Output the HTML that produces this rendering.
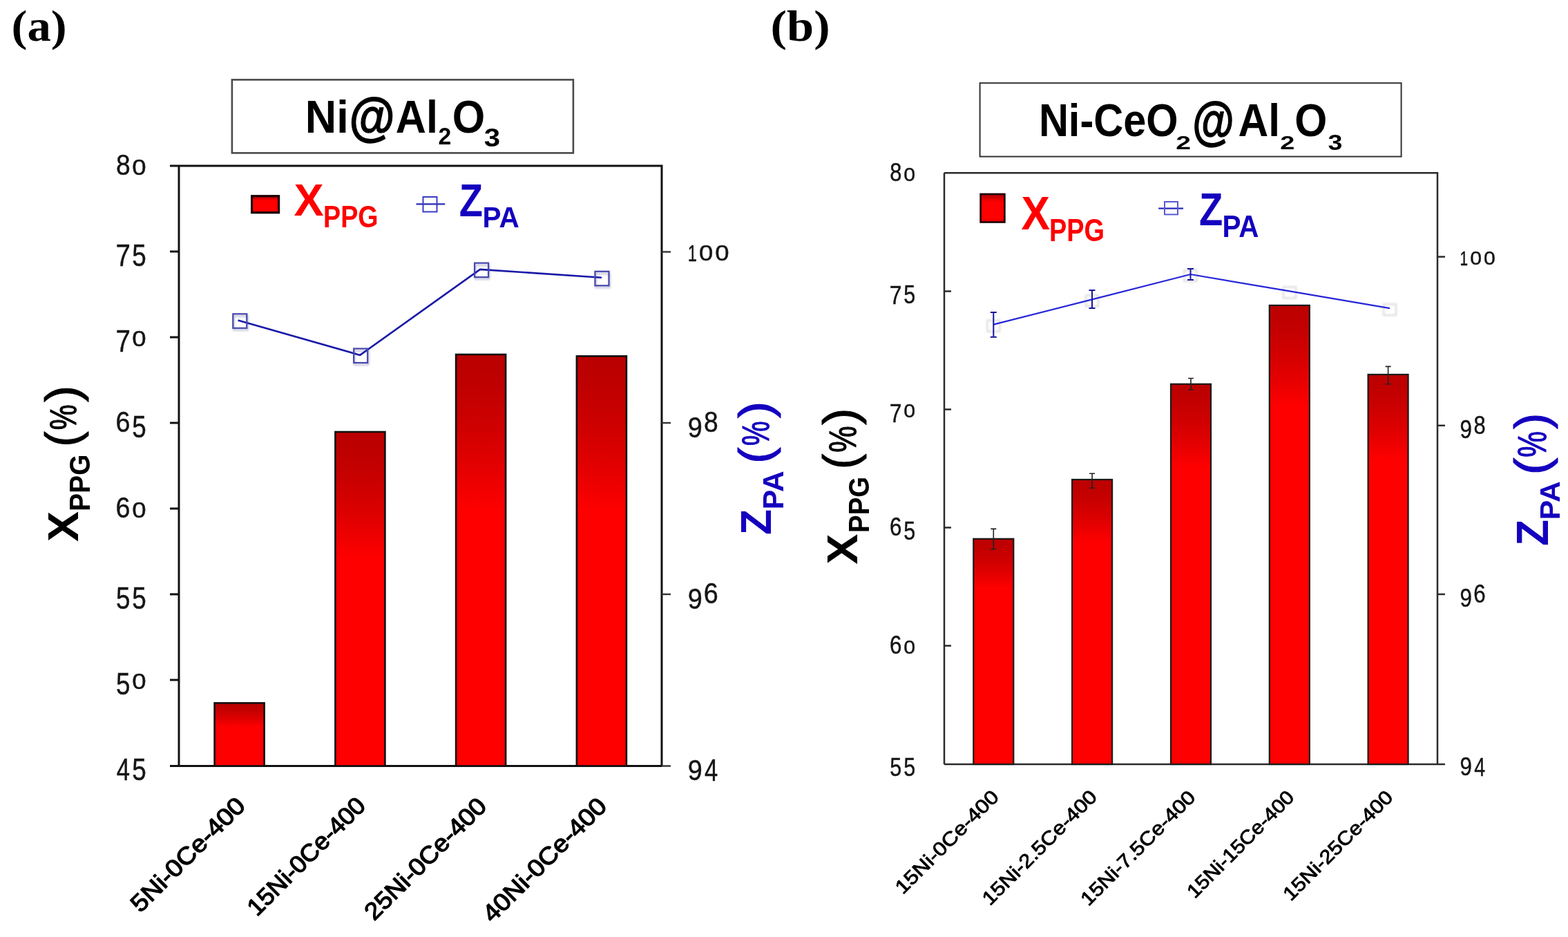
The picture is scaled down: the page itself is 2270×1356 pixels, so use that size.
<!DOCTYPE html>
<html><head><meta charset="utf-8"><title>Figure</title>
<style>html,body{margin:0;padding:0;background:#fff;overflow:hidden;}svg{display:block;}</style></head>
<body><svg width="2270" height="1356" viewBox="0 0 2270 1356">
<rect width="2270" height="1356" fill="#fff"/>
<defs><linearGradient id="rg" x1="0" y1="0" x2="0" y2="1"><stop offset="0.000" stop-color="#ba0000"/><stop offset="0.038" stop-color="#bc0000"/><stop offset="0.076" stop-color="#c00000"/><stop offset="0.114" stop-color="#c50000"/><stop offset="0.152" stop-color="#cb0000"/><stop offset="0.190" stop-color="#d20000"/><stop offset="0.228" stop-color="#da0000"/><stop offset="0.266" stop-color="#e20000"/><stop offset="0.304" stop-color="#eb0000"/><stop offset="0.342" stop-color="#f50000"/><stop offset="0.380" stop-color="#ff0000"/><stop offset="1" stop-color="#ff0000"/></linearGradient><linearGradient id="rgb" x1="0" y1="0" x2="0" y2="1"><stop offset="0.000" stop-color="#bc0000"/><stop offset="0.022" stop-color="#be0000"/><stop offset="0.044" stop-color="#c20000"/><stop offset="0.066" stop-color="#c70000"/><stop offset="0.088" stop-color="#cd0000"/><stop offset="0.110" stop-color="#d40000"/><stop offset="0.132" stop-color="#db0000"/><stop offset="0.154" stop-color="#e30000"/><stop offset="0.176" stop-color="#ec0000"/><stop offset="0.198" stop-color="#f50000"/><stop offset="0.220" stop-color="#ff0000"/><stop offset="1" stop-color="#ff0000"/></linearGradient><linearGradient id="rgs" x1="0" y1="0" x2="0" y2="1"><stop offset="0" stop-color="#a80000"/><stop offset="0.12" stop-color="#d00000"/><stop offset="0.3" stop-color="#ff0000"/><stop offset="0.85" stop-color="#ff0000"/><stop offset="1" stop-color="#d80000"/></linearGradient><filter id="sh" x="-50%" y="-50%" width="200%" height="200%"><feGaussianBlur stdDeviation="1.5"/></filter></defs>
<text x="16.5" y="59.0" font-size="63.61" fill="#000" font-weight="bold" font-family="'Liberation Serif', 'DejaVu Serif', serif" textLength="80.1" lengthAdjust="spacingAndGlyphs" >(a)</text>
<text x="1115.6" y="59.0" font-size="63.72" fill="#000" font-weight="bold" font-family="'Liberation Serif', 'DejaVu Serif', serif" textLength="86.0" lengthAdjust="spacingAndGlyphs" >(b)</text>
<rect x="335.9" y="115.4" width="494" height="106" fill="#fff" stroke="#4a4a4a" stroke-width="2.6"/>
<text x="441.8" y="192.1" font-size="67.0" fill="#000" font-weight="bold" font-family="'Liberation Sans', 'DejaVu Sans', sans-serif" textLength="62.9" lengthAdjust="spacingAndGlyphs" >Ni</text>
<text x="505.6" y="195.4" font-size="75.09" fill="#000" font-weight="bold" font-family="'Liberation Sans', 'DejaVu Sans', sans-serif" textLength="66.2" lengthAdjust="spacingAndGlyphs" stroke="#000" stroke-width="1.3">@</text>
<text x="572.7" y="192.1" font-size="67.0" fill="#000" font-weight="bold" font-family="'Liberation Sans', 'DejaVu Sans', sans-serif" textLength="61.2" lengthAdjust="spacingAndGlyphs" >Al</text>
<text x="634.5" y="209.2" font-size="35.0" fill="#000" font-weight="bold" font-family="'Liberation Sans', 'DejaVu Sans', sans-serif" textLength="18.8" lengthAdjust="spacingAndGlyphs" >2</text>
<text x="654.8" y="192.1" font-size="67.0" fill="#000" font-weight="bold" font-family="'Liberation Sans', 'DejaVu Sans', sans-serif" textLength="47.5" lengthAdjust="spacingAndGlyphs" >O</text>
<text x="700.8" y="212.0" font-size="36.0" fill="#000" font-weight="bold" font-family="'Liberation Sans', 'DejaVu Sans', sans-serif" textLength="23.4" lengthAdjust="spacingAndGlyphs" >3</text>
<g stroke="#111" stroke-width="3" fill="none">
<path d="M246 240 H958 V1108.5 M259 240 V1108.5 M246 1108.5 H958"/>
<path d="M246 364 H259"/>
<path d="M246 488 H259"/>
<path d="M246 612 H259"/>
<path d="M246 736 H259"/>
<path d="M246 860 H259"/>
<path d="M246 984 H259"/>
</g>
<g stroke="#333" stroke-width="2.4" fill="none">
<path d="M958 364.5 H971"/>
<path d="M958 612 H971"/>
<path d="M958 860 H971"/>
<path d="M958 1108.5 H971"/>
</g>
<text x="167.90" y="252.58" font-size="41.67" fill="#151515" stroke="#151515" stroke-width="0.45" font-family="'Liberation Sans', 'DejaVu Sans', sans-serif" textLength="20.70" lengthAdjust="spacingAndGlyphs">8</text><text x="191.28" y="252.68" font-size="31.78" fill="#151515" stroke="#151515" stroke-width="0.45" font-family="'Liberation Sans', 'DejaVu Sans', sans-serif" textLength="20.31" lengthAdjust="spacingAndGlyphs">0</text>
<text x="167.54" y="385.00" font-size="44.33" fill="#151515" stroke="#151515" stroke-width="0.45" font-family="'Liberation Sans', 'DejaVu Sans', sans-serif" textLength="21.38" lengthAdjust="spacingAndGlyphs">7</text><text x="191.23" y="384.56" font-size="43.70" fill="#151515" stroke="#151515" stroke-width="0.45" font-family="'Liberation Sans', 'DejaVu Sans', sans-serif" textLength="20.48" lengthAdjust="spacingAndGlyphs">5</text>
<text x="167.54" y="509.00" font-size="44.33" fill="#151515" stroke="#151515" stroke-width="0.45" font-family="'Liberation Sans', 'DejaVu Sans', sans-serif" textLength="21.38" lengthAdjust="spacingAndGlyphs">7</text><text x="191.28" y="500.68" font-size="31.78" fill="#151515" stroke="#151515" stroke-width="0.45" font-family="'Liberation Sans', 'DejaVu Sans', sans-serif" textLength="20.31" lengthAdjust="spacingAndGlyphs">0</text>
<text x="167.61" y="624.58" font-size="41.67" fill="#151515" stroke="#151515" stroke-width="0.45" font-family="'Liberation Sans', 'DejaVu Sans', sans-serif" textLength="21.02" lengthAdjust="spacingAndGlyphs">6</text><text x="191.23" y="632.56" font-size="43.70" fill="#151515" stroke="#151515" stroke-width="0.45" font-family="'Liberation Sans', 'DejaVu Sans', sans-serif" textLength="20.48" lengthAdjust="spacingAndGlyphs">5</text>
<text x="167.61" y="748.58" font-size="41.67" fill="#151515" stroke="#151515" stroke-width="0.45" font-family="'Liberation Sans', 'DejaVu Sans', sans-serif" textLength="21.02" lengthAdjust="spacingAndGlyphs">6</text><text x="191.28" y="748.68" font-size="31.78" fill="#151515" stroke="#151515" stroke-width="0.45" font-family="'Liberation Sans', 'DejaVu Sans', sans-serif" textLength="20.31" lengthAdjust="spacingAndGlyphs">0</text>
<text x="168.03" y="880.56" font-size="43.70" fill="#151515" stroke="#151515" stroke-width="0.45" font-family="'Liberation Sans', 'DejaVu Sans', sans-serif" textLength="20.48" lengthAdjust="spacingAndGlyphs">5</text><text x="191.23" y="880.56" font-size="43.70" fill="#151515" stroke="#151515" stroke-width="0.45" font-family="'Liberation Sans', 'DejaVu Sans', sans-serif" textLength="20.48" lengthAdjust="spacingAndGlyphs">5</text>
<text x="168.03" y="1004.56" font-size="43.70" fill="#151515" stroke="#151515" stroke-width="0.45" font-family="'Liberation Sans', 'DejaVu Sans', sans-serif" textLength="20.48" lengthAdjust="spacingAndGlyphs">5</text><text x="191.28" y="996.68" font-size="31.78" fill="#151515" stroke="#151515" stroke-width="0.45" font-family="'Liberation Sans', 'DejaVu Sans', sans-serif" textLength="20.31" lengthAdjust="spacingAndGlyphs">0</text>
<text x="168.74" y="1129.00" font-size="44.33" fill="#151515" stroke="#151515" stroke-width="0.45" font-family="'Liberation Sans', 'DejaVu Sans', sans-serif" textLength="19.27" lengthAdjust="spacingAndGlyphs">4</text><text x="191.23" y="1128.56" font-size="43.70" fill="#151515" stroke="#151515" stroke-width="0.45" font-family="'Liberation Sans', 'DejaVu Sans', sans-serif" textLength="20.48" lengthAdjust="spacingAndGlyphs">5</text>
<text x="995.69" y="377.50" font-size="32.70" fill="#151515" stroke="#151515" stroke-width="0.45" font-family="'Liberation Sans', 'DejaVu Sans', sans-serif" textLength="13.26" lengthAdjust="spacingAndGlyphs">1</text><text x="1012.08" y="377.18" font-size="31.78" fill="#151515" stroke="#151515" stroke-width="0.45" font-family="'Liberation Sans', 'DejaVu Sans', sans-serif" textLength="20.31" lengthAdjust="spacingAndGlyphs">0</text><text x="1035.28" y="377.18" font-size="31.78" fill="#151515" stroke="#151515" stroke-width="0.45" font-family="'Liberation Sans', 'DejaVu Sans', sans-serif" textLength="20.31" lengthAdjust="spacingAndGlyphs">0</text>
<text x="995.76" y="633.07" font-size="43.08" fill="#151515" stroke="#151515" stroke-width="0.45" font-family="'Liberation Sans', 'DejaVu Sans', sans-serif" textLength="21.02" lengthAdjust="spacingAndGlyphs">9</text><text x="1019.10" y="625.08" font-size="41.67" fill="#151515" stroke="#151515" stroke-width="0.45" font-family="'Liberation Sans', 'DejaVu Sans', sans-serif" textLength="20.70" lengthAdjust="spacingAndGlyphs">8</text>
<text x="995.76" y="881.07" font-size="43.08" fill="#151515" stroke="#151515" stroke-width="0.45" font-family="'Liberation Sans', 'DejaVu Sans', sans-serif" textLength="21.02" lengthAdjust="spacingAndGlyphs">9</text><text x="1018.81" y="873.08" font-size="41.67" fill="#151515" stroke="#151515" stroke-width="0.45" font-family="'Liberation Sans', 'DejaVu Sans', sans-serif" textLength="21.02" lengthAdjust="spacingAndGlyphs">6</text>
<text x="995.76" y="1129.07" font-size="43.08" fill="#151515" stroke="#151515" stroke-width="0.45" font-family="'Liberation Sans', 'DejaVu Sans', sans-serif" textLength="21.02" lengthAdjust="spacingAndGlyphs">9</text><text x="1019.94" y="1129.50" font-size="44.33" fill="#151515" stroke="#151515" stroke-width="0.45" font-family="'Liberation Sans', 'DejaVu Sans', sans-serif" textLength="19.27" lengthAdjust="spacingAndGlyphs">4</text>
<rect x="310.6" y="1017.4" width="72" height="91.1" fill="url(#rg)" stroke="#111" stroke-width="2.6"/>
<rect x="485.4" y="625.0" width="72" height="483.5" fill="url(#rg)" stroke="#111" stroke-width="2.6"/>
<rect x="660.1" y="513.0" width="72" height="595.5" fill="url(#rg)" stroke="#111" stroke-width="2.6"/>
<rect x="834.9" y="515.4" width="72" height="593.1" fill="url(#rg)" stroke="#111" stroke-width="2.6"/>
<rect x="338.3" y="457.3" width="20" height="20" fill="none" stroke="#8888b8" stroke-width="2.5" opacity="0.55" filter="url(#sh)"/>
<rect x="513.2" y="507.5" width="20" height="20" fill="none" stroke="#8888b8" stroke-width="2.5" opacity="0.55" filter="url(#sh)"/>
<rect x="688.1" y="383.6" width="20" height="20" fill="none" stroke="#8888b8" stroke-width="2.5" opacity="0.55" filter="url(#sh)"/>
<rect x="862.5" y="395.8" width="20" height="20" fill="none" stroke="#8888b8" stroke-width="2.5" opacity="0.55" filter="url(#sh)"/>
<path d="M344.5 463.5 L521.2 513.9 L695.0 389.9 L871.0 401.7" fill="none" stroke="#1a1aa8" stroke-width="2.6" stroke-linejoin="round"/>
<rect x="337.3" y="454.3" width="20" height="20.5" fill="none" stroke="#4646ae" stroke-width="2.2"/>
<rect x="512.2" y="504.5" width="20" height="20.5" fill="none" stroke="#4646ae" stroke-width="2.2"/>
<rect x="687.1" y="380.6" width="20" height="20.5" fill="none" stroke="#4646ae" stroke-width="2.2"/>
<rect x="861.5" y="392.8" width="20" height="20.5" fill="none" stroke="#4646ae" stroke-width="2.2"/>
<rect x="364.6" y="283.7" width="39" height="24" fill="url(#rgs)" stroke="#1c0000" stroke-width="3.2"/>
<path d="M602.5 295.3 H644.2" stroke="#2a2ab8" stroke-width="2.2"/>
<rect x="612.5" y="285" width="20" height="21.5" fill="none" stroke="#3b3bc4" stroke-width="2"/>
<text x="425.6" y="312.0" font-size="65.73" fill="#ff0000" font-weight="bold" font-family="'Liberation Sans', 'DejaVu Sans', sans-serif" textLength="43.2" lengthAdjust="spacingAndGlyphs" >X</text>
<text x="468.1" y="329.2" font-size="43.65" fill="#ff0000" font-weight="bold" font-family="'Liberation Sans', 'DejaVu Sans', sans-serif" textLength="79.6" lengthAdjust="spacingAndGlyphs" >PPG</text>
<text x="664.8" y="313.0" font-size="67.16" fill="#1400be" font-weight="bold" font-family="'Liberation Sans', 'DejaVu Sans', sans-serif" textLength="34.2" lengthAdjust="spacingAndGlyphs" >Z</text>
<text x="698.5" y="329.2" font-size="42.55" fill="#1400be" font-weight="bold" font-family="'Liberation Sans', 'DejaVu Sans', sans-serif" textLength="53.4" lengthAdjust="spacingAndGlyphs" >PA</text>
<g transform="translate(113.2,783.9) rotate(-90)"><text x="0.0" y="0.0" font-size="62.94" fill="#000" font-weight="bold" font-family="'Liberation Sans', 'DejaVu Sans', sans-serif" textLength="44.2" lengthAdjust="spacingAndGlyphs" >X</text></g>
<g transform="translate(129.9,739.7) rotate(-90)"><text x="0.0" y="0.0" font-size="42.46" fill="#000" font-weight="bold" font-family="'Liberation Sans', 'DejaVu Sans', sans-serif" textLength="82.1" lengthAdjust="spacingAndGlyphs" >PPG</text></g>
<g transform="translate(113.9,646.7) rotate(-90)"><text x="0.0" y="0.0" font-size="68.52" fill="#000" font-weight="normal" font-family="'Liberation Sans', 'DejaVu Sans', sans-serif" textLength="22.5" lengthAdjust="spacingAndGlyphs" stroke="#000" stroke-width="1.0" stroke-linejoin="round">(</text></g>
<g transform="translate(109.9,622.2) rotate(-90)"><text x="0.0" y="0.0" font-size="54.19" fill="#000" font-weight="normal" font-family="'Liberation Sans', 'DejaVu Sans', sans-serif" textLength="36.9" lengthAdjust="spacingAndGlyphs" stroke="#000" stroke-width="1.1" stroke-linejoin="round">%</text></g>
<g transform="translate(113.9,582.1) rotate(-90)"><text x="0.0" y="0.0" font-size="68.52" fill="#000" font-weight="normal" font-family="'Liberation Sans', 'DejaVu Sans', sans-serif" textLength="24.2" lengthAdjust="spacingAndGlyphs" stroke="#000" stroke-width="1.0" stroke-linejoin="round">)</text></g>
<g transform="translate(1115.6,773.9) rotate(-90)"><text x="0.0" y="0.0" font-size="63.74" fill="#1400be" font-weight="bold" font-family="'Liberation Sans', 'DejaVu Sans', sans-serif" textLength="37.0" lengthAdjust="spacingAndGlyphs" >Z</text></g>
<g transform="translate(1133.5,737.2) rotate(-90)"><text x="0.0" y="0.0" font-size="43.29" fill="#1400be" font-weight="bold" font-family="'Liberation Sans', 'DejaVu Sans', sans-serif" textLength="56.0" lengthAdjust="spacingAndGlyphs" >PA</text></g>
<g transform="translate(1116.4,671.1) rotate(-90)"><text x="0.0" y="0.0" font-size="66.86" fill="#1400be" font-weight="normal" font-family="'Liberation Sans', 'DejaVu Sans', sans-serif" textLength="23.7" lengthAdjust="spacingAndGlyphs" stroke="#1400be" stroke-width="1.0" stroke-linejoin="round">(</text></g>
<g transform="translate(1113.1,644.9) rotate(-90)"><text x="0.0" y="0.0" font-size="55.56" fill="#1400be" font-weight="normal" font-family="'Liberation Sans', 'DejaVu Sans', sans-serif" textLength="35.6" lengthAdjust="spacingAndGlyphs" stroke="#1400be" stroke-width="1.1" stroke-linejoin="round">%</text></g>
<g transform="translate(1116.4,605.3) rotate(-90)"><text x="0.0" y="0.0" font-size="66.86" fill="#1400be" font-weight="normal" font-family="'Liberation Sans', 'DejaVu Sans', sans-serif" textLength="24.4" lengthAdjust="spacingAndGlyphs" stroke="#1400be" stroke-width="1.0" stroke-linejoin="round">)</text></g>
<g transform="translate(357.1,1168.1) rotate(-45)"><text x="0.0" y="0.0" font-size="35.0" fill="#000" font-weight="normal" font-family="'Liberation Sans', 'DejaVu Sans', sans-serif" text-anchor="end" textLength="217.5" lengthAdjust="spacingAndGlyphs" stroke="#000" stroke-width="1.3" stroke-linejoin="round">5Ni-0Ce-400</text></g>
<g transform="translate(531.1,1168.1) rotate(-45)"><text x="0.0" y="0.0" font-size="35.0" fill="#000" font-weight="normal" font-family="'Liberation Sans', 'DejaVu Sans', sans-serif" text-anchor="end" textLength="225.1" lengthAdjust="spacingAndGlyphs" stroke="#000" stroke-width="1.3" stroke-linejoin="round">15Ni-0Ce-400</text></g>
<g transform="translate(706.5,1168.7) rotate(-45)"><text x="0.0" y="0.0" font-size="35.0" fill="#000" font-weight="normal" font-family="'Liberation Sans', 'DejaVu Sans', sans-serif" text-anchor="end" textLength="233.0" lengthAdjust="spacingAndGlyphs" stroke="#000" stroke-width="1.3" stroke-linejoin="round">25Ni-0Ce-400</text></g>
<g transform="translate(880.5,1168.7) rotate(-45)"><text x="0.0" y="0.0" font-size="35.0" fill="#000" font-weight="normal" font-family="'Liberation Sans', 'DejaVu Sans', sans-serif" text-anchor="end" textLength="237.2" lengthAdjust="spacingAndGlyphs" stroke="#000" stroke-width="1.3" stroke-linejoin="round">40Ni-0Ce-400</text></g>
<rect x="1418.6" y="120.2" width="610" height="106.4" fill="#fff" stroke="#333" stroke-width="2"/>
<text x="1503.9" y="196.5" font-size="67.0" fill="#000" font-weight="bold" font-family="'Liberation Sans', 'DejaVu Sans', sans-serif" textLength="201.7" lengthAdjust="spacingAndGlyphs" >Ni-CeO</text>
<text x="1702.2" y="215.5" font-size="27.0" fill="#000" font-weight="bold" font-family="'Liberation Sans', 'DejaVu Sans', sans-serif" textLength="21.8" lengthAdjust="spacingAndGlyphs" >2</text>
<text x="1726.2" y="200.8" font-size="75.59" fill="#000" font-weight="bold" font-family="'Liberation Sans', 'DejaVu Sans', sans-serif" textLength="60.5" lengthAdjust="spacingAndGlyphs" stroke="#000" stroke-width="1.3">@</text>
<text x="1792.6" y="196.5" font-size="67.0" fill="#000" font-weight="bold" font-family="'Liberation Sans', 'DejaVu Sans', sans-serif" textLength="60.5" lengthAdjust="spacingAndGlyphs" >Al</text>
<text x="1853.2" y="215.5" font-size="27.0" fill="#000" font-weight="bold" font-family="'Liberation Sans', 'DejaVu Sans', sans-serif" textLength="21.1" lengthAdjust="spacingAndGlyphs" >2</text>
<text x="1874.3" y="196.5" font-size="67.0" fill="#000" font-weight="bold" font-family="'Liberation Sans', 'DejaVu Sans', sans-serif" textLength="47.1" lengthAdjust="spacingAndGlyphs" >O</text>
<text x="1922.5" y="217.0" font-size="31.0" fill="#000" font-weight="bold" font-family="'Liberation Sans', 'DejaVu Sans', sans-serif" textLength="20.9" lengthAdjust="spacingAndGlyphs" >3</text>
<g stroke="#2a2a2a" stroke-width="2.5" fill="none">
<path d="M1367 250.3 H2081 V1106 M1367 250.3 V1106 M1367 1106 H2092"/>
<path d="M1367 421.5 H1377"/>
<path d="M1367 592.5 H1377"/>
<path d="M1367 763.5 H1377"/>
<path d="M1367 934.5 H1377"/>
<path d="M2081 371.6 H2092"/>
<path d="M2081 615.8 H2092"/>
<path d="M2081 860.0 H2092"/>
</g>
<text x="1288.17" y="262.13" font-size="37.15" fill="#151515" stroke="#151515" stroke-width="0.45" font-family="'Liberation Sans', 'DejaVu Sans', sans-serif" textLength="17.15" lengthAdjust="spacingAndGlyphs">8</text><text x="1308.22" y="262.22" font-size="28.25" fill="#151515" stroke="#151515" stroke-width="0.45" font-family="'Liberation Sans', 'DejaVu Sans', sans-serif" textLength="16.83" lengthAdjust="spacingAndGlyphs">0</text>
<text x="1287.87" y="439.50" font-size="37.79" fill="#151515" stroke="#151515" stroke-width="0.45" font-family="'Liberation Sans', 'DejaVu Sans', sans-serif" textLength="17.72" lengthAdjust="spacingAndGlyphs">7</text><text x="1308.18" y="439.13" font-size="37.25" fill="#151515" stroke="#151515" stroke-width="0.45" font-family="'Liberation Sans', 'DejaVu Sans', sans-serif" textLength="16.97" lengthAdjust="spacingAndGlyphs">5</text>
<text x="1287.87" y="610.50" font-size="37.79" fill="#151515" stroke="#151515" stroke-width="0.45" font-family="'Liberation Sans', 'DejaVu Sans', sans-serif" textLength="17.72" lengthAdjust="spacingAndGlyphs">7</text><text x="1308.22" y="604.22" font-size="28.25" fill="#151515" stroke="#151515" stroke-width="0.45" font-family="'Liberation Sans', 'DejaVu Sans', sans-serif" textLength="16.83" lengthAdjust="spacingAndGlyphs">0</text>
<text x="1287.93" y="775.13" font-size="37.15" fill="#151515" stroke="#151515" stroke-width="0.45" font-family="'Liberation Sans', 'DejaVu Sans', sans-serif" textLength="17.41" lengthAdjust="spacingAndGlyphs">6</text><text x="1308.18" y="781.13" font-size="37.25" fill="#151515" stroke="#151515" stroke-width="0.45" font-family="'Liberation Sans', 'DejaVu Sans', sans-serif" textLength="16.97" lengthAdjust="spacingAndGlyphs">5</text>
<text x="1287.93" y="946.13" font-size="37.15" fill="#151515" stroke="#151515" stroke-width="0.45" font-family="'Liberation Sans', 'DejaVu Sans', sans-serif" textLength="17.41" lengthAdjust="spacingAndGlyphs">6</text><text x="1308.22" y="946.22" font-size="28.25" fill="#151515" stroke="#151515" stroke-width="0.45" font-family="'Liberation Sans', 'DejaVu Sans', sans-serif" textLength="16.83" lengthAdjust="spacingAndGlyphs">0</text>
<text x="1288.28" y="1123.13" font-size="37.25" fill="#151515" stroke="#151515" stroke-width="0.45" font-family="'Liberation Sans', 'DejaVu Sans', sans-serif" textLength="16.97" lengthAdjust="spacingAndGlyphs">5</text><text x="1308.18" y="1123.13" font-size="37.25" fill="#151515" stroke="#151515" stroke-width="0.45" font-family="'Liberation Sans', 'DejaVu Sans', sans-serif" textLength="16.97" lengthAdjust="spacingAndGlyphs">5</text>
<text x="2113.42" y="383.60" font-size="29.07" fill="#151515" stroke="#151515" stroke-width="0.45" font-family="'Liberation Sans', 'DejaVu Sans', sans-serif" textLength="11.58" lengthAdjust="spacingAndGlyphs">1</text><text x="2128.22" y="383.32" font-size="28.25" fill="#151515" stroke="#151515" stroke-width="0.45" font-family="'Liberation Sans', 'DejaVu Sans', sans-serif" textLength="16.83" lengthAdjust="spacingAndGlyphs">0</text><text x="2148.12" y="383.32" font-size="28.25" fill="#151515" stroke="#151515" stroke-width="0.45" font-family="'Liberation Sans', 'DejaVu Sans', sans-serif" textLength="16.83" lengthAdjust="spacingAndGlyphs">0</text>
<text x="2113.56" y="633.53" font-size="36.72" fill="#151515" stroke="#151515" stroke-width="0.45" font-family="'Liberation Sans', 'DejaVu Sans', sans-serif" textLength="17.41" lengthAdjust="spacingAndGlyphs">9</text><text x="2133.57" y="627.53" font-size="37.15" fill="#151515" stroke="#151515" stroke-width="0.45" font-family="'Liberation Sans', 'DejaVu Sans', sans-serif" textLength="17.15" lengthAdjust="spacingAndGlyphs">8</text>
<text x="2113.56" y="877.83" font-size="36.72" fill="#151515" stroke="#151515" stroke-width="0.45" font-family="'Liberation Sans', 'DejaVu Sans', sans-serif" textLength="17.41" lengthAdjust="spacingAndGlyphs">9</text><text x="2133.33" y="871.83" font-size="37.15" fill="#151515" stroke="#151515" stroke-width="0.45" font-family="'Liberation Sans', 'DejaVu Sans', sans-serif" textLength="17.41" lengthAdjust="spacingAndGlyphs">6</text>
<text x="2113.56" y="1122.13" font-size="36.72" fill="#151515" stroke="#151515" stroke-width="0.45" font-family="'Liberation Sans', 'DejaVu Sans', sans-serif" textLength="17.41" lengthAdjust="spacingAndGlyphs">9</text><text x="2134.27" y="1122.50" font-size="37.79" fill="#151515" stroke="#151515" stroke-width="0.45" font-family="'Liberation Sans', 'DejaVu Sans', sans-serif" textLength="15.96" lengthAdjust="spacingAndGlyphs">4</text>
<rect x="1409.3" y="779.8" width="58" height="326.2" fill="url(#rgb)" stroke="#1a1a1a" stroke-width="2.2"/>
<rect x="1552.1" y="694.0" width="58" height="412.0" fill="url(#rgb)" stroke="#1a1a1a" stroke-width="2.2"/>
<rect x="1695.0" y="555.8" width="58" height="550.2" fill="url(#rgb)" stroke="#1a1a1a" stroke-width="2.2"/>
<rect x="1837.8" y="441.9" width="58" height="664.1" fill="url(#rgb)" stroke="#1a1a1a" stroke-width="2.2"/>
<rect x="1980.6" y="542.0" width="58" height="564.0" fill="url(#rgb)" stroke="#1a1a1a" stroke-width="2.2"/>
<g stroke="#222" stroke-width="1.6" fill="none">
<path d="M1438.3 765.4 V794.7 M1434.3 765.4 H1442.3 M1434.3 794.7 H1442.3"/>
<path d="M1581.1 685.2 V706.2 M1577.1 685.2 H1585.1 M1577.1 706.2 H1585.1"/>
<path d="M1724.0 547.5 V564.0 M1720.0 547.5 H1728.0 M1720.0 564.0 H1728.0"/>
<path d="M2009.6 530.4 V555.8 M2005.6 530.4 H2013.6 M2005.6 555.8 H2013.6"/>
</g>
<rect x="1429.3" y="463.6" width="18" height="16" fill="none" stroke="#bbb" stroke-width="2" opacity="0.6" filter="url(#sh)"/>
<rect x="1572.0" y="427.4" width="18" height="16" fill="none" stroke="#bbb" stroke-width="2" opacity="0.6" filter="url(#sh)"/>
<rect x="1714.5" y="391.0" width="18" height="16" fill="none" stroke="#bbb" stroke-width="2" opacity="0.6" filter="url(#sh)"/>
<rect x="1858.0" y="415.4" width="18" height="16" fill="none" stroke="#bbb" stroke-width="2" opacity="0.6" filter="url(#sh)"/>
<rect x="2003.0" y="440.2" width="18" height="16" fill="none" stroke="#bbb" stroke-width="2" opacity="0.6" filter="url(#sh)"/>
<path d="M1438.3 469.6 L1581.0 433.4 L1723.5 397.0 L1867.0 421.4 L2012.0 446.2" fill="none" stroke="#2626d8" stroke-width="2.2"/>
<g stroke="#16169c" stroke-width="2" fill="none">
<path d="M1438.3 452.1 V487.7 M1433.8 452.1 H1442.8 M1433.8 487.7 H1442.8"/>
<path d="M1581.0 420.0 V446.1 M1576.5 420.0 H1585.5 M1576.5 446.1 H1585.5"/>
<path d="M1723.5 389.0 V404.9 M1719.0 389.0 H1728.0 M1719.0 404.9 H1728.0"/>
</g>
<rect x="1419.6" y="280.9" width="34.8" height="40.6" fill="url(#rgs)" stroke="#1c0000" stroke-width="2.6"/>
<path d="M1677.2 301.7 H1713" stroke="#2a2ab8" stroke-width="2.2"/>
<rect x="1686" y="292" width="19" height="18.4" fill="none" stroke="#5a5ad0" stroke-width="2"/>
<text x="1478.5" y="331.7" font-size="68.6" fill="#ff0000" font-weight="bold" font-family="'Liberation Sans', 'DejaVu Sans', sans-serif" textLength="41.5" lengthAdjust="spacingAndGlyphs" >X</text>
<text x="1518.9" y="348.6" font-size="45.45" fill="#ff0000" font-weight="bold" font-family="'Liberation Sans', 'DejaVu Sans', sans-serif" textLength="80.1" lengthAdjust="spacingAndGlyphs" >PPG</text>
<text x="1736.1" y="326.3" font-size="67.02" fill="#1400be" font-weight="bold" font-family="'Liberation Sans', 'DejaVu Sans', sans-serif" textLength="34.3" lengthAdjust="spacingAndGlyphs" >Z</text>
<text x="1769.4" y="343.1" font-size="45.0" fill="#1400be" font-weight="bold" font-family="'Liberation Sans', 'DejaVu Sans', sans-serif" textLength="53.2" lengthAdjust="spacingAndGlyphs" >PA</text>
<g transform="translate(1241.3,816.7) rotate(-90)"><text x="0.0" y="0.0" font-size="63.23" fill="#000" font-weight="bold" font-family="'Liberation Sans', 'DejaVu Sans', sans-serif" textLength="44.2" lengthAdjust="spacingAndGlyphs" >X</text></g>
<g transform="translate(1257.5,771.0) rotate(-90)"><text x="0.0" y="0.0" font-size="41.91" fill="#000" font-weight="bold" font-family="'Liberation Sans', 'DejaVu Sans', sans-serif" textLength="81.3" lengthAdjust="spacingAndGlyphs" >PPG</text></g>
<g transform="translate(1240.2,679.3) rotate(-90)"><text x="0.0" y="0.0" font-size="69.15" fill="#000" font-weight="normal" font-family="'Liberation Sans', 'DejaVu Sans', sans-serif" textLength="22.6" lengthAdjust="spacingAndGlyphs" stroke="#000" stroke-width="1.0" stroke-linejoin="round">(</text></g>
<g transform="translate(1238.8,654.8) rotate(-90)"><text x="0.0" y="0.0" font-size="56.27" fill="#000" font-weight="normal" font-family="'Liberation Sans', 'DejaVu Sans', sans-serif" textLength="38.4" lengthAdjust="spacingAndGlyphs" stroke="#000" stroke-width="1.1" stroke-linejoin="round">%</text></g>
<g transform="translate(1240.2,615.0) rotate(-90)"><text x="0.0" y="0.0" font-size="69.15" fill="#000" font-weight="normal" font-family="'Liberation Sans', 'DejaVu Sans', sans-serif" textLength="24.6" lengthAdjust="spacingAndGlyphs" stroke="#000" stroke-width="1.0" stroke-linejoin="round">)</text></g>
<g transform="translate(2240.7,790.0) rotate(-90)"><text x="0.0" y="0.0" font-size="64.25" fill="#1400be" font-weight="bold" font-family="'Liberation Sans', 'DejaVu Sans', sans-serif" textLength="38.0" lengthAdjust="spacingAndGlyphs" >Z</text></g>
<g transform="translate(2258.3,752.3) rotate(-90)"><text x="0.0" y="0.0" font-size="40.94" fill="#1400be" font-weight="bold" font-family="'Liberation Sans', 'DejaVu Sans', sans-serif" textLength="55.9" lengthAdjust="spacingAndGlyphs" >PA</text></g>
<g transform="translate(2241.4,687.6) rotate(-90)"><text x="0.0" y="0.0" font-size="69.38" fill="#1400be" font-weight="normal" font-family="'Liberation Sans', 'DejaVu Sans', sans-serif" textLength="25.2" lengthAdjust="spacingAndGlyphs" stroke="#1400be" stroke-width="1.0" stroke-linejoin="round">(</text></g>
<g transform="translate(2238.1,661.7) rotate(-90)"><text x="0.0" y="0.0" font-size="56.75" fill="#1400be" font-weight="normal" font-family="'Liberation Sans', 'DejaVu Sans', sans-serif" textLength="37.7" lengthAdjust="spacingAndGlyphs" stroke="#1400be" stroke-width="1.1" stroke-linejoin="round">%</text></g>
<g transform="translate(2241.4,621.1) rotate(-90)"><text x="0.0" y="0.0" font-size="69.38" fill="#1400be" font-weight="normal" font-family="'Liberation Sans', 'DejaVu Sans', sans-serif" textLength="23.5" lengthAdjust="spacingAndGlyphs" stroke="#1400be" stroke-width="1.0" stroke-linejoin="round">)</text></g>
<g transform="translate(1447.7,1154.9) rotate(-45)"><text x="0.0" y="0.0" font-size="28.0" fill="#000" font-weight="normal" font-family="'Liberation Sans', 'DejaVu Sans', sans-serif" text-anchor="end" textLength="198.6" lengthAdjust="spacingAndGlyphs" stroke="#000" stroke-width="0.9" stroke-linejoin="round">15Ni-0Ce-400</text></g>
<g transform="translate(1589.8,1154.9) rotate(-45)"><text x="0.0" y="0.0" font-size="28.0" fill="#000" font-weight="normal" font-family="'Liberation Sans', 'DejaVu Sans', sans-serif" text-anchor="end" textLength="221.4" lengthAdjust="spacingAndGlyphs" stroke="#000" stroke-width="0.9" stroke-linejoin="round">15Ni-2.5Ce-400</text></g>
<g transform="translate(1732.4,1155.6) rotate(-45)"><text x="0.0" y="0.0" font-size="28.0" fill="#000" font-weight="normal" font-family="'Liberation Sans', 'DejaVu Sans', sans-serif" text-anchor="end" textLength="221.4" lengthAdjust="spacingAndGlyphs" stroke="#000" stroke-width="0.9" stroke-linejoin="round">15Ni-7.5Ce-400</text></g>
<g transform="translate(1875.3,1155.6) rotate(-45)"><text x="0.0" y="0.0" font-size="28.0" fill="#000" font-weight="normal" font-family="'Liberation Sans', 'DejaVu Sans', sans-serif" text-anchor="end" textLength="206.0" lengthAdjust="spacingAndGlyphs" stroke="#000" stroke-width="0.9" stroke-linejoin="round">15Ni-15Ce-400</text></g>
<g transform="translate(2018.2,1155.6) rotate(-45)"><text x="0.0" y="0.0" font-size="28.0" fill="#000" font-weight="normal" font-family="'Liberation Sans', 'DejaVu Sans', sans-serif" text-anchor="end" textLength="211.2" lengthAdjust="spacingAndGlyphs" stroke="#000" stroke-width="0.9" stroke-linejoin="round">15Ni-25Ce-400</text></g>
</svg></body></html>
